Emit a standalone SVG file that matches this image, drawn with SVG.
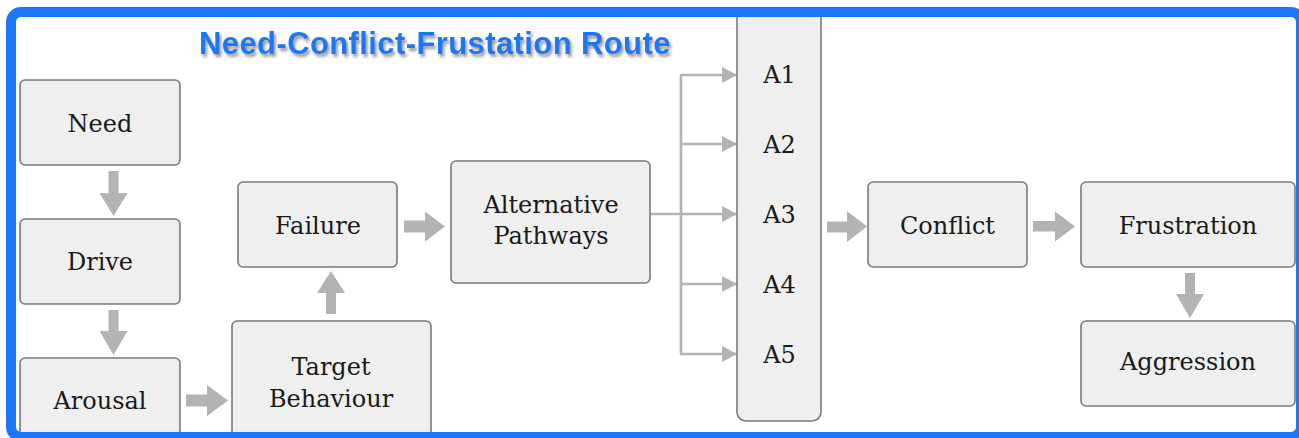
<svg xmlns="http://www.w3.org/2000/svg" width="1299" height="438" viewBox="0 0 1299 438">
<style>
.box{fill:#efefef;stroke:#7a7a7a;stroke-width:1.6}
.lbl{font-family:"DejaVu Serif","Liberation Serif",serif;font-size:24px;fill:#1a1a1a;text-anchor:middle}
.blk{fill:#b3b3b3;stroke:none}
.ln{fill:none;stroke:#b3b3b3;stroke-width:2.6}
.title{font-family:"Liberation Sans",Arial,sans-serif;font-weight:bold;font-size:31px;letter-spacing:0.4px;fill:#1f77f5}
</style>
<defs>
<filter id="sh" x="-5%" y="-30%" width="110%" height="160%">
<feDropShadow dx="2" dy="3" stdDeviation="1.8" flood-color="#777" flood-opacity="0.75"/>
</filter>
<marker id="ah" viewBox="0 0 15 16" refX="15" refY="8" markerWidth="15" markerHeight="16" markerUnits="userSpaceOnUse" orient="auto">
<path d="M0,0 L15,8 L0,16 Z" fill="#b3b3b3"/>
</marker>
</defs>
<rect x="0" y="0" width="1299" height="438" fill="#ffffff"/>

<g id="connectors">
<path class="blk" d="M108.5,171 H118.5 V193 H127.5 L113.5,216 L99.5,193 H108.5 Z"/>
<path class="blk" d="M108.5,310 H118.5 V331 H127.5 L113.5,355 L99.5,331 H108.5 Z"/>
<path class="blk" d="M186,394.5 H207 V385 L228,400.5 L207,416 V406.5 H186 Z"/>
<path class="blk" d="M326,314 V293 H317 L331,271 L345,293 H336 V314 Z"/>
<path class="blk" d="M404,220.5 H425 V211.5 L445,226.5 L425,241.5 V232.5 H404 Z"/>
<path class="blk" d="M827,221.5 H847 V211 L867,226.5 L847,242 V232.5 H827 Z"/>
<path class="blk" d="M1033,221 H1055 V211.5 L1075,226.5 L1055,241.5 V231.5 H1033 Z"/>
<path class="blk" d="M1185,273 H1195 V294 H1204 L1190,318 L1176,294 H1185 Z"/>
<path class="ln" d="M650,214 H737" marker-end="url(#ah)"/>
<path class="ln" d="M681,75 V354"/>
<path class="ln" d="M680,75 H737" marker-end="url(#ah)"/>
<path class="ln" d="M680,144 H737" marker-end="url(#ah)"/>
<path class="ln" d="M680,284 H737" marker-end="url(#ah)"/>
<path class="ln" d="M680,354 H737" marker-end="url(#ah)"/>
</g>

<g id="need"><rect class="box" x="20" y="80" width="160" height="85" rx="5"/><text class="lbl" x="100" y="131.5">Need</text></g>
<g id="drive"><rect class="box" x="20" y="219" width="160" height="85" rx="5"/><text class="lbl" x="100" y="270">Drive</text></g>
<g id="arousal"><rect class="box" x="20" y="358" width="160" height="90" rx="5"/><text class="lbl" x="100" y="409">Arousal</text></g>
<g id="target"><rect class="box" x="232" y="321" width="199" height="130" rx="5"/><text class="lbl" x="331" y="375">Target</text><text class="lbl" x="331" y="406.5">Behaviour</text></g>
<g id="failure"><rect class="box" x="238" y="182" width="159" height="85" rx="5"/><text class="lbl" x="318" y="234">Failure</text></g>
<g id="alternative"><rect class="box" x="451" y="161" width="199" height="122" rx="5"/><text class="lbl" x="551" y="212.5">Alternative</text><text class="lbl" x="551" y="243.5">Pathways</text></g>
<g id="alist"><rect class="box" x="737" y="9" width="84" height="412" rx="9"/>
<text class="lbl" x="779.5" y="83">A1</text>
<text class="lbl" x="779.5" y="153">A2</text>
<text class="lbl" x="779.5" y="223">A3</text>
<text class="lbl" x="779.5" y="293">A4</text>
<text class="lbl" x="779.5" y="363">A5</text></g>
<g id="conflict"><rect class="box" x="868" y="182" width="159" height="85" rx="5"/><text class="lbl" x="947.5" y="234">Conflict</text></g>
<g id="frustration"><rect class="box" x="1081" y="182" width="214" height="85" rx="5"/><text class="lbl" x="1188" y="234">Frustration</text></g>
<g id="aggression"><rect class="box" x="1081" y="321" width="214" height="85" rx="5"/><text class="lbl" x="1188" y="369.5">Aggression</text></g>

<rect x="11" y="12" width="1290" height="425" rx="10" fill="none" stroke="#1c76fa" stroke-width="10"/>
<text class="title" x="199" y="53.5" filter="url(#sh)">Need-Conflict-Frustation Route</text>
</svg>
